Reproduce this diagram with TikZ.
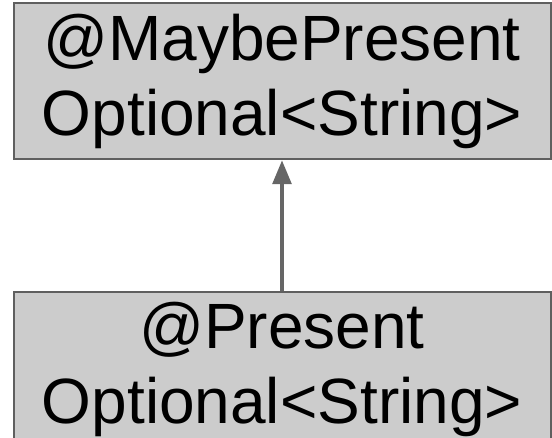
\documentclass[tikz,border=0pt]{standalone}
\usepackage{fontspec}
\setmainfont{Liberation Sans}
\usetikzlibrary{arrows.meta}
\definecolor{boxfill}{HTML}{CCCCCC}
\definecolor{boxline}{HTML}{5F5F5F}
\definecolor{arrline}{HTML}{666666}
\tikzset{anno/.style={draw=boxline,fill=boxfill,line width=1.5pt,minimum width=402.75pt,minimum height=117pt,
	align=center,inner sep=0pt,font=\fontsize{48}{56.25}\selectfont}}
\begin{document}
\begin{tikzpicture}[x=.75pt,y=-.75pt]
	\clip (0,0) rectangle (552,438);
	\node[anno] (maybe) at (282,81.25) {@MaybePresent\\Optional<String>};
	\node[anno] (present) at (282,369.5) {@Present\\Optional<String>};
	\draw[arrline,line width=3pt,-{Triangle[width=14pt,length=18pt]}] (present) -- (maybe);
\end{tikzpicture}
\end{document}
